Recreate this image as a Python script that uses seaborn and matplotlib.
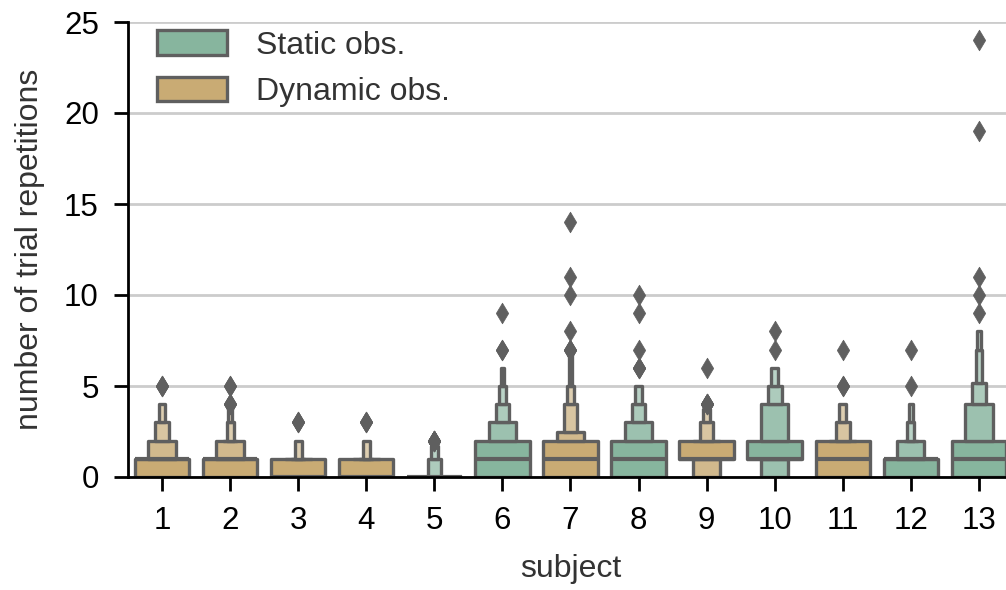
import numpy as np
import pandas as pd
import matplotlib
matplotlib.use("Agg")
import matplotlib.pyplot as plt
import seaborn as sns

subjects = list(range(1, 14))
conditions = ["Dynamic obs.", "Dynamic obs.", "Dynamic obs.", "Dynamic obs.",
              "Static obs.", "Static obs.", "Dynamic obs.", "Static obs.",
              "Dynamic obs.", "Static obs.", "Dynamic obs.", "Static obs.",
              "Static obs."]
hue_order = ["Static obs.", "Dynamic obs."]

# number of trials with 0, 1, 2, ... repetitions, per subject
reps_s1 = [60, 65, 18, 8, 6, 3]
reps_s2 = [108, 100, 46, 11, 3, 2]
reps_s3 = [110, 80, 7, 3]
reps_s4 = [95, 75, 7, 3]
reps_s5 = [182, 13, 7]
reps_s6 = [90, 110, 45, 25, 15, 8, 4, 2, 0, 1]
reps_s7 = [120, 120, 107, 19, 14, 6, 4, 3, 1, 0, 1, 1, 0, 0, 1]
reps_s8 = [70, 80, 45, 25, 15, 9, 3, 1, 0, 1, 1]
reps_s9 = [30, 70, 50, 14, 5, 0, 1]
reps_s10 = [30, 90, 40, 12, 14, 6, 6, 1, 1]
reps_s11 = [60, 70, 50, 10, 7, 2, 0, 1]
reps_s12 = [120, 120, 45, 8, 5, 1, 0, 1]
reps_s13 = [120, 110, 95, 30, 20, 13, 8, 7, 6, 1, 1, 1,
            0, 0, 0, 0, 0, 0, 0, 1, 0, 0, 0, 0, 1]

all_reps = [reps_s1, reps_s2, reps_s3, reps_s4, reps_s5, reps_s6, reps_s7,
            reps_s8, reps_s9, reps_s10, reps_s11, reps_s12, reps_s13]

rows = []
for subj, cond, counts in zip(subjects, conditions, all_reps):
    vals = np.repeat(np.arange(len(counts)), counts)
    for v in vals:
        rows.append((str(subj), cond, v))
df = pd.DataFrame(rows, columns=["subject", "condition", "reps"])

sns.set_style("ticks")
plt.rcParams["font.family"] = ["Liberation Sans", "DejaVu Sans"]

GREEN = "#87b59e"
TAN = "#c9ab74"
LINE = "#5f5f5f"

fig = plt.figure(figsize=(10.06, 5.9), dpi=100)
ax = fig.add_axes([128 / 1006, 1 - 477 / 590, 885 / 1006, 455 / 590])

sns.boxenplot(data=df, x="subject", y="reps", hue="condition",
              order=[str(s) for s in subjects], hue_order=hue_order,
              palette=[GREEN, TAN], saturation=1, linecolor=LINE,
              linewidth=2.4, width=0.8,
              flier_kws=dict(marker="d", s=110, facecolor=LINE,
                             edgecolor=LINE, linewidth=0.5),
              ax=ax)

ax.set_ylim(0, 25)
ax.set_xlim(-0.5, 12.5)
ax.set_yticks([0, 5, 10, 15, 20, 25])
ax.yaxis.grid(True, color="#cccccc", linewidth=2.0)
ax.set_axisbelow(True)
for s in ["top", "right"]:
    ax.spines[s].set_visible(False)
for s in ["left", "bottom"]:
    ax.spines[s].set_linewidth(2.0)
    ax.spines[s].set_color("black")
ax.tick_params(axis="both", length=10, width=2.0, pad=11,
               labelsize=22.5, colors="black")
ax.set_xlabel("subject", fontsize=23, color="#333333", labelpad=13)
ax.set_ylabel("number of trial repetitions", fontsize=23,
              color="#333333", labelpad=14)

sns.move_legend(ax, "upper left", bbox_to_anchor=(0.0, 1.045),
                frameon=False, title=None, fontsize=23,
                handlelength=2.2, handleheight=0.8, handletextpad=0.9,
                labelspacing=0.5, labelcolor="#333333")

fig.savefig("out.png", dpi=100)
